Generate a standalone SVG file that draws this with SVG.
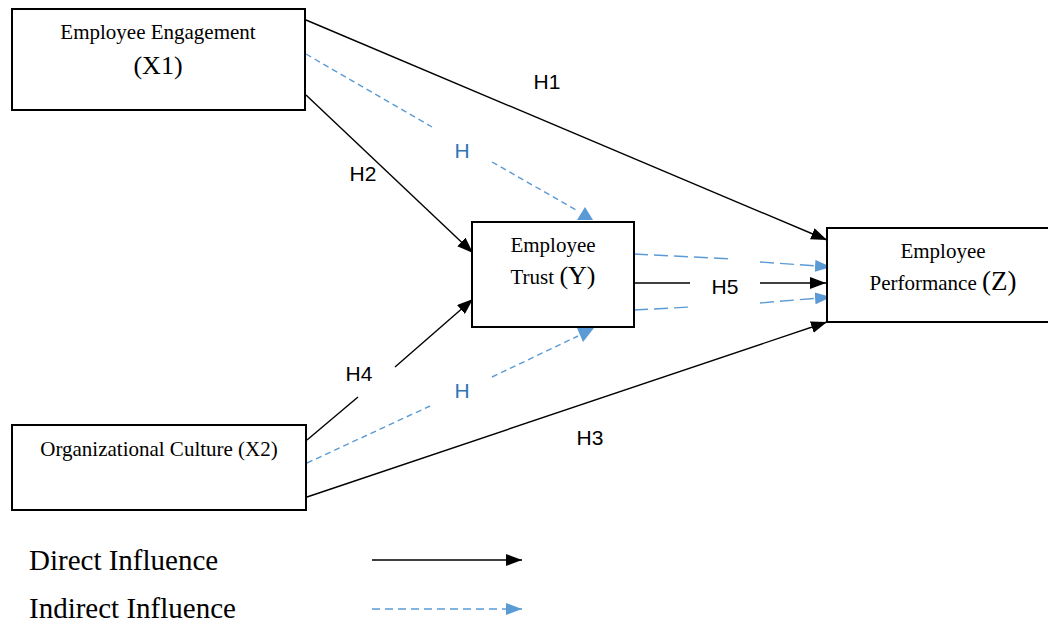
<svg xmlns="http://www.w3.org/2000/svg" width="1048" height="625" viewBox="0 0 1048 625">
<style>
.box{fill:#fff;stroke:#000;stroke-width:2}
.t{font-family:"Liberation Serif","Times New Roman",serif;fill:#000;font-size:21px}
.big{font-size:27px}
.leg{font-family:"Liberation Serif","Times New Roman",serif;fill:#000;font-size:29px}
.lab{font-family:"Liberation Sans",Arial,sans-serif;font-size:21px;fill:#000}
.blab{font-family:"Liberation Sans",Arial,sans-serif;font-size:21px;fill:#2E75B6}
.d{stroke:#000;stroke-width:1.4;fill:none}
.i{stroke:#5B9BD5;stroke-width:1.4;fill:none;stroke-dasharray:6 4}
.bh{fill:#5B9BD5}
</style>
<defs>
<marker id="ab" viewBox="0 0 16 12" refX="16" refY="6" markerWidth="16" markerHeight="12" markerUnits="userSpaceOnUse" orient="auto"><path d="M0,0 L16,6 L0,12 z" fill="#000"/></marker>
<marker id="ai" viewBox="0 0 16 12" refX="16" refY="6" markerWidth="16" markerHeight="12" markerUnits="userSpaceOnUse" orient="auto"><path d="M0,0 L16,6 L0,12 z" fill="#5B9BD5"/></marker>
</defs>

<g id="connectors">
<line class="d" x1="306" y1="20" x2="827" y2="240" marker-end="url(#ab)"/>
<line class="d" x1="306" y1="95" x2="473" y2="253" marker-end="url(#ab)"/>
<line class="d" x1="307" y1="440" x2="358" y2="397"/>
<line class="d" x1="395" y1="367" x2="473" y2="299" marker-end="url(#ab)"/>
<line class="d" x1="307" y1="497" x2="827" y2="322" marker-end="url(#ab)"/>
<line class="d" x1="634" y1="283" x2="690" y2="283"/>
<line class="d" x1="760" y1="283" x2="826" y2="283" marker-end="url(#ab)"/>
<line class="i" x1="306" y1="54" x2="432" y2="127"/>
<line class="i" x1="492" y1="162" x2="578" y2="211"/>
<polygon class="bh" points="585,207 593,220 577,220"/>
<line class="i" x1="307" y1="463" x2="430" y2="406"/>
<line class="i" x1="492" y1="377" x2="578" y2="336"/>
<polygon class="bh" points="577,328 594,328 583,342"/>
<line class="i" x1="634" y1="254" x2="733" y2="259" style="stroke-dasharray:14 6"/>
<line class="i" x1="760" y1="262" x2="831" y2="267" marker-end="url(#ai)" style="stroke-dasharray:14 6"/>
<line class="i" x1="634" y1="310" x2="690" y2="307" style="stroke-dasharray:14 6"/>
<line class="i" x1="760" y1="303" x2="831" y2="297" marker-end="url(#ai)" style="stroke-dasharray:14 6"/>
</g>

<g id="node-x1">
<rect class="box" x="12" y="9" width="293" height="101"/>
<text class="t" x="158" y="39" text-anchor="middle">Employee Engagement</text>
<text class="t big" x="158" y="74" text-anchor="middle" style="font-size:26px">(X1)</text>
</g>

<g id="node-x2">
<rect class="box" x="12" y="425" width="294" height="85"/>
<text class="t" x="159" y="456" text-anchor="middle">Organizational Culture (X2)</text>
</g>

<g id="node-y">
<rect class="box" x="472" y="222" width="162" height="105"/>
<text class="t" x="553" y="252" text-anchor="middle">Employee</text>
<text class="t" x="553" y="284" text-anchor="middle">Trust <tspan class="big" style="font-size:26px">(Y)</tspan></text>
</g>

<g id="node-z">
<rect class="box" x="827" y="228" width="240" height="94"/>
<text class="t" x="943" y="258" text-anchor="middle">Employee</text>
<text class="t" x="943" y="290" text-anchor="middle">Performance <tspan class="big">(Z)</tspan></text>
</g>

<g id="labels">
<text class="lab" x="547" y="89" text-anchor="middle">H1</text>
<text class="lab" x="363" y="181" text-anchor="middle">H2</text>
<text class="blab" x="462" y="158" text-anchor="middle">H</text>
<text class="lab" x="359" y="381" text-anchor="middle">H4</text>
<text class="blab" x="462" y="398" text-anchor="middle">H</text>
<text class="lab" x="590" y="445" text-anchor="middle">H3</text>
<text class="lab" x="725" y="294" text-anchor="middle">H5</text>
</g>

<g id="legend">
<text class="leg" x="29" y="570">Direct Influence</text>
<text class="leg" x="29" y="618">Indirect Influence</text>
<line class="d" x1="372" y1="560" x2="522" y2="560" marker-end="url(#ab)"/>
<line class="i" x1="372" y1="609" x2="522" y2="609" marker-end="url(#ai)" style="stroke-dasharray:8 5"/>
</g>
</svg>
